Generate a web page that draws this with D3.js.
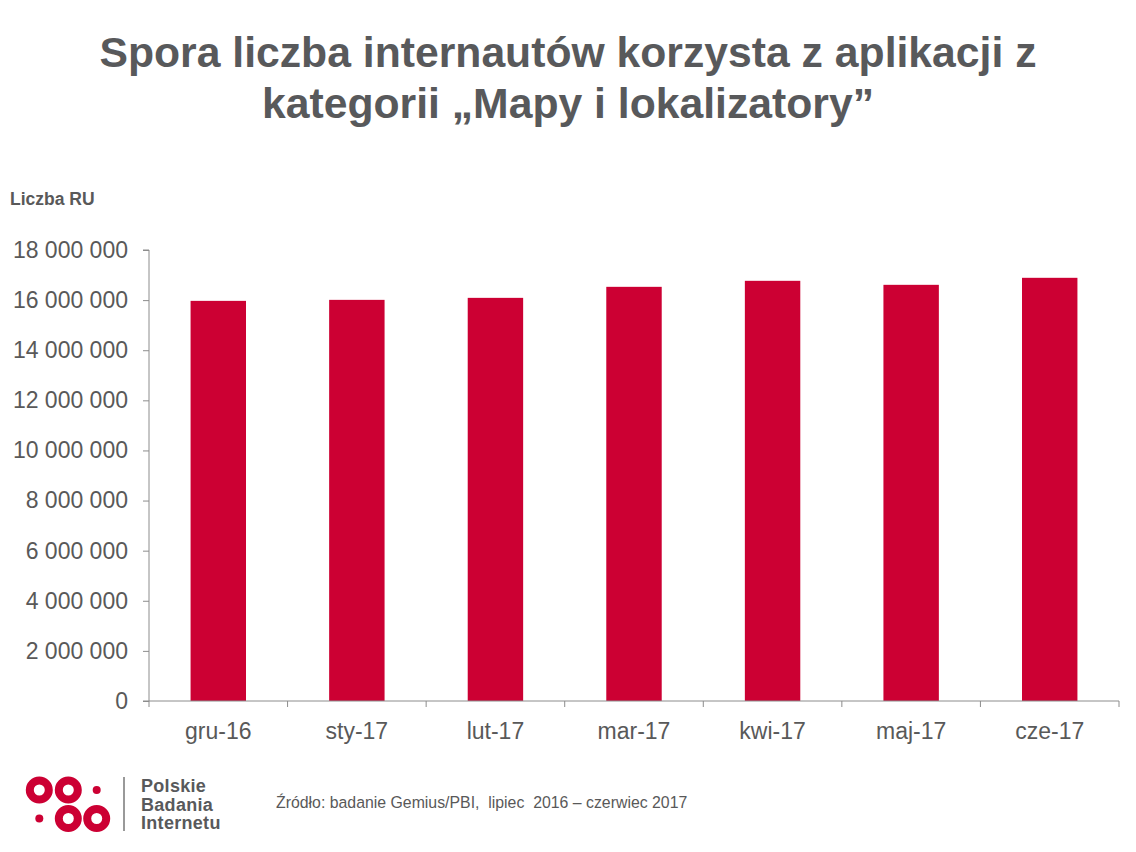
<!DOCTYPE html>
<html><head><meta charset="utf-8">
<script src="https://cdn.jsdelivr.net/npm/d3@7"></script>
<style>body{margin:0;background:#fff;}svg{display:block;}</style>
</head><body>
<svg id="c" width="1136" height="852"></svg>
<script>
const categories = ["gru-16","sty-17","lut-17","mar-17","kwi-17","maj-17","cze-17"];
const values = [15970000, 16010000, 16090000, 16530000, 16770000, 16610000, 16890000];
const yTicks = [0,2000000,4000000,6000000,8000000,10000000,12000000,14000000,16000000,18000000];
const titleLines = ["Spora liczba internautów korzysta z aplikacji z", "kategorii \u201eMapy i lokalizatory\u201d"];
const yLabel = "Liczba RU";
const source = "\u0179ród\u0142o: badanie Gemius/PBI,  lipiec  2016 \u2013 czerwiec 2017";
const logoLines = ["Polskie","Badania","Internetu"];

const svg = d3.select("#c");
const grey = "#595959", red = "#cc0033", axisC = "#8c8c8c";
const font = "Liberation Sans, Arial, sans-serif";

const x = d3.scaleBand().domain(categories).range([149,1119]).paddingInner(0.6).paddingOuter(0.3);
const y = d3.scaleLinear().domain([0,18000000]).range([701,250]);

// title
svg.append("g").selectAll("text").data(titleLines).join("text")
  .attr("x",568).attr("y",(d,i)=>67+i*51).attr("text-anchor","middle")
  .attr("font-family",font).attr("font-weight","bold").attr("font-size",42.7).attr("fill","#58595b").text(d=>d);

svg.append("text").attr("x",10).attr("y",205).attr("font-family",font).attr("font-weight","bold")
  .attr("font-size",17.5).attr("fill",grey).text(yLabel);

// bars
svg.append("g").selectAll("rect").data(values).join("rect")
  .attr("x",(d,i)=>x(categories[i])).attr("width",x.bandwidth())
  .attr("y",d=>y(d)).attr("height",d=>y(0)-y(d)).attr("fill",red);

// y axis
const fmt = v => d3.format(",")(v).replace(/,/g," ");
const ya = svg.append("g").attr("transform","translate(149,0)")
  .call(d3.axisLeft(y).tickValues(yTicks).tickSize(6).tickPadding(15).tickFormat(fmt));
ya.select(".domain").attr("stroke",axisC).attr("d","M-6,"+y(18000000)+"H0V"+y(0));
ya.selectAll(".tick line").attr("stroke",axisC);
ya.selectAll("text").attr("font-family",font).attr("font-size",23).attr("fill",grey);

// x axis
const step = x.step();
const xa = svg.append("g").attr("transform","translate(0,701)");
xa.append("line").attr("x1",143).attr("x2",1119).attr("stroke",axisC);
xa.selectAll(".tk").data(d3.range(categories.length+1)).join("line")
  .attr("x1",i=>149+i*step).attr("x2",i=>149+i*step).attr("y1",0).attr("y2",6).attr("stroke",axisC);
xa.selectAll("text").data(categories).join("text")
  .attr("x",d=>x(d)+x.bandwidth()/2).attr("y",38).attr("text-anchor","middle")
  .attr("font-family",font).attr("font-size",23).attr("fill",grey).text(d=>d);

// source
svg.append("text").attr("x",276).attr("y",808).attr("font-family",font).attr("font-size",15.85)
  .attr("fill",grey).style("white-space","pre").text(source);

// logo
const lg = svg.append("g");
const rings = [[39.3,790],[68.3,790],[68.3,818.5],[96.7,818.5]];
const dots = [[96.7,790],[39.3,818.5]];
lg.selectAll(".r").data(rings).join("circle").attr("cx",d=>d[0]).attr("cy",d=>d[1]).attr("r",9.5)
  .attr("fill","none").attr("stroke",red).attr("stroke-width",8);
lg.selectAll(".d").data(dots).join("circle").attr("cx",d=>d[0]).attr("cy",d=>d[1]).attr("r",4).attr("fill",red);
lg.append("line").attr("x1",124).attr("x2",124).attr("y1",777).attr("y2",831).attr("stroke","#777").attr("stroke-width",1.5);
lg.selectAll("text").data(logoLines).join("text").attr("x",141).attr("y",(d,i)=>792+i*18.5)
  .attr("font-family",font).attr("font-weight","bold").attr("font-size",18).attr("letter-spacing",0.3)
  .attr("fill","#58595b").text(d=>d);
</script>
</body></html>
